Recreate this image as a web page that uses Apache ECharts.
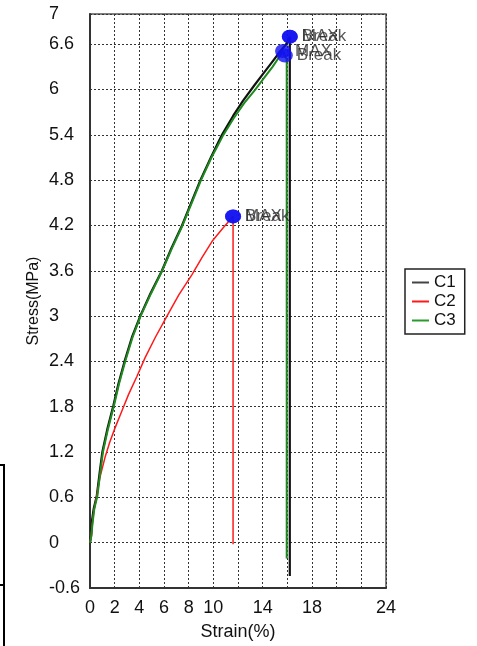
<!DOCTYPE html>
<html>
<head>
<meta charset="utf-8">
<script src="https://cdn.jsdelivr.net/npm/echarts@6/dist/echarts.min.js"></script>
<style>
html,body{margin:0;padding:0;background:#fff;}
#chart{width:477px;height:646px;}
</style>
</head>
<body>
<div id="chart"></div>
<script>
// ---- data ----
var c1Strain = [0, 0.1, 0.15, 0.3, 0.55, 0.8, 1.0, 1.4, 1.9, 2.3, 2.8, 3.4, 4.07, 4.9, 5.83, 6.6, 7.46, 8.2, 8.95, 9.8, 10.7, 11.6, 12.4, 13.3, 14.0, 14.7, 15.4, 15.9, 16.2, 16.2];
var c1Stress = [0, 0.1, 0.28, 0.45, 0.62, 0.95, 1.2, 1.5, 1.82, 2.1, 2.4, 2.72, 3.0, 3.3, 3.6, 3.9, 4.2, 4.5, 4.8, 5.1, 5.4, 5.65, 5.85, 6.05, 6.2, 6.35, 6.5, 6.6, 6.7, -0.44];

var c2Strain = [0, 0.1, 0.3, 0.55, 0.81, 1.22, 1.6, 2.03, 2.6, 3.12, 3.8, 4.47, 5.3, 6.24, 7.2, 8.27, 9.1, 9.9, 10.8, 11.6, 11.6];
var c2Stress = [0, 0.1, 0.4, 0.62, 0.87, 1.13, 1.33, 1.52, 1.75, 1.96, 2.2, 2.45, 2.72, 3.0, 3.28, 3.55, 3.78, 3.99, 4.17, 4.32, -0.02];

var c3Strain = [0, 0.1, 0.2, 0.35, 0.6, 0.85, 1.05, 1.45, 1.95, 2.35, 2.85, 3.45, 4.1, 4.95, 5.85, 6.65, 7.5, 8.25, 9.0, 9.85, 10.75, 11.65, 12.5, 13.4, 14.1, 14.8, 15.3, 15.65, 15.8, 15.95, 15.95];
var c3Stress = [0, 0.08, 0.25, 0.45, 0.62, 0.95, 1.2, 1.5, 1.82, 2.1, 2.4, 2.72, 3.0, 3.3, 3.6, 3.9, 4.2, 4.5, 4.8, 5.1, 5.38, 5.62, 5.82, 6.0, 6.15, 6.3, 6.42, 6.51, 6.45, 6.4, -0.21];

var markerStrain = [16.2, 16.2, 15.65, 15.8, 11.6, 11.6];
var markerStress = [6.7, 6.7, 6.51, 6.45, 4.32, 4.32];
var markerLabel = ['Break', 'MAX', 'MAX', 'Break', 'Break', 'MAX'];

var xTickLabels = [0, 2, 4, 6, 8, 10, 14, 18, 24];
var seriesNames = ['C1', 'C2', 'C3'];

// ---- build ----
function zip(a, b) { return a.map(function (v, i) { return [v, b[i]]; }); }
var FONT = 'Liberation Sans';

var chart = echarts.init(document.getElementById('chart'), null, {renderer: 'canvas'});
var markers = markerStrain.map(function (x, i) {
  return {value: [x, markerStress[i]], name: markerLabel[i]};
});

chart.setOption({
  animation: false,
  backgroundColor: '#fff',
  textStyle: {fontFamily: FONT},
  grid: {left: 90, top: 14, right: 91, bottom: 54, show: true, borderColor: '#555', borderWidth: 1.5, backgroundColor: 'transparent'},
  legend: {
    data: seriesNames,
    orient: 'vertical',
    left: 405, top: 269,
    itemWidth: 17, itemHeight: 2, itemGap: 2,
    icon: 'rect',
    padding: [5, 9, 5, 7],
    borderColor: '#222', borderWidth: 1.5,
    textStyle: {fontFamily: FONT, fontSize: 17, color: '#111', lineHeight: 17}
  },
  xAxis: {
    type: 'value', min: 0, max: 24, interval: 2,
    name: 'Strain(%)', nameLocation: 'middle', nameGap: 35, nameMoveOverlap: false,
    nameTextStyle: {fontFamily: FONT, fontSize: 18, color: '#111'},
    axisLine: {onZero: false, lineStyle: {color: '#333', width: 2}},
    axisTick: {show: false},
    axisLabel: {
      margin: 11, fontSize: 18, color: '#111', fontFamily: FONT,
      formatter: function (v) { return xTickLabels.indexOf(Math.round(v)) >= 0 ? String(Math.round(v)) : ''; }
    },
    splitLine: {show: true, lineStyle: {type: [2, 2], color: '#333', width: 1}}
  },
  yAxis: {
    type: 'value', min: -0.6, max: 7, interval: 0.6,
    name: 'Stress(MPa)', nameLocation: 'middle', nameGap: 48, nameMoveOverlap: false,
    nameTextStyle: {fontFamily: FONT, fontSize: 16, color: '#111'},
    axisLine: {show: true, onZero: false, lineStyle: {color: '#333', width: 2}},
    axisTick: {show: false},
    axisLabel: {
      margin: 41, align: 'left', fontSize: 18, color: '#111', fontFamily: FONT,
      formatter: function (v) { return String(Math.round(v * 10) / 10); }
    },
    splitLine: {show: true, lineStyle: {type: [2, 2], color: '#333', width: 1}}
  },
  series: [
    {name: 'C1', type: 'line', data: zip(c1Strain, c1Stress), showSymbol: false, symbol: 'none',
     lineStyle: {color: '#111', width: 2.2}, itemStyle: {color: '#444'}, z: 3},
    {name: 'C2', type: 'line', data: zip(c2Strain, c2Stress), showSymbol: false, symbol: 'none',
     lineStyle: {color: '#ff1a1a', width: 1.5}, itemStyle: {color: '#ff1a1a'}, z: 3},
    {name: 'C3', type: 'line', data: zip(c3Strain, c3Stress), showSymbol: false, symbol: 'none',
     lineStyle: {color: '#1e8a1e', width: 2}, itemStyle: {color: '#2a9a2a'}, z: 4},
    {name: 'markers', type: 'scatter', data: markers, symbol: 'circle', symbolSize: [16, 14],
     itemStyle: {color: '#1010f0'}, z: 5,
     label: {show: true, position: 'right', distance: 4, formatter: '{b}', color: '#2a2a2a', fontFamily: FONT, fontSize: 17}}
  ],
  graphic: [
    {type: 'line', shape: {x1: 4, y1: 465, x2: 4, y2: 646}, style: {stroke: '#000', lineWidth: 2}},
    {type: 'line', shape: {x1: 0, y1: 465, x2: 5, y2: 465}, style: {stroke: '#000', lineWidth: 2}},
    {type: 'line', shape: {x1: 0, y1: 585, x2: 5, y2: 585}, style: {stroke: '#000', lineWidth: 2}}
  ]
});
</script>
</body>
</html>
